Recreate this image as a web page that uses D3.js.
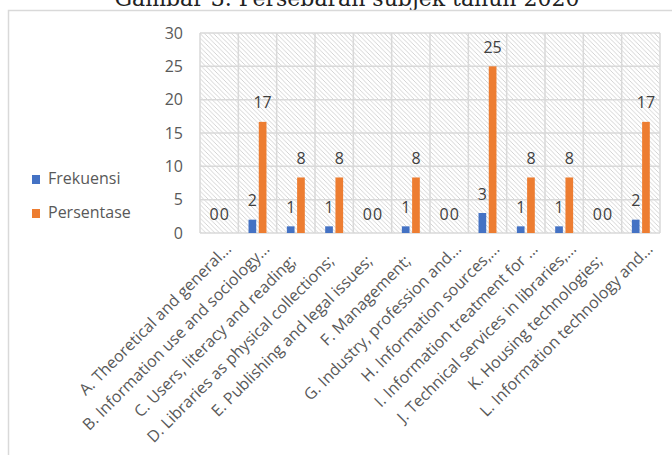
<!DOCTYPE html>
<html><head>
<meta charset="utf-8">
<script src="https://d3js.org/d3.v7.min.js"></script>
<style>
  body { margin: 0; background: #fff; }
  svg { display: block; }
</style>
</head>
<body>
<div id="chart"></div>
<script>

// data
const categories = [
  'A. Theoretical and general...',
  'B. Information use and sociology...',
  'C. Users, literacy and reading;',
  'D. Libraries as physical collections;',
  'E. Publishing and legal issues;',
  'F. Management;',
  'G. Industry, profession and...',
  'H. Information sources,...',
  'I. Information treatment for ...',
  'J. Technical services in libraries,...',
  'K. Housing technologies;',
  'L. Information technology and...'
];
const frekuensi = [0, 2, 1, 1, 0, 1, 0, 3, 1, 1, 0, 2];
const persentase = [0, 16.67, 8.33, 8.33, 0, 8.33, 0, 25, 8.33, 8.33, 0, 16.67];
const seriesNames = ['Frekuensi', 'Persentase'];
const yTicks = [0, 5, 10, 15, 20, 25, 30];
const titleText = 'Gambar 3. Persebaran subjek tahun 2020';

// constants
const W = 672, H = 455;
const plot = {left: 200, right: 660, top: 33, bottom: 233};
const colors = ['#4472C4', '#ED7D31'];
const textColor = '#595959';
const sans = '"Open Sans", sans-serif';

const svg = d3.select('#chart').append('svg')
  .attr('width', W).attr('height', H);

// hatch pattern for plot background ("\" diagonals)
const hs = 4.5;
const defs = svg.append('defs');
const pat = defs.append('pattern')
  .attr('id', 'hatch')
  .attr('patternUnits', 'userSpaceOnUse')
  .attr('width', hs).attr('height', hs);
pat.append('rect').attr('width', hs).attr('height', hs).style('fill', '#fff');
pat.append('path')
  .attr('d', `M0,0 L${hs},${hs} M${-hs / 2},${hs / 2} L${hs / 2},${hs * 1.5} M${hs / 2},${-hs / 2} L${hs * 1.5},${hs / 2}`)
  .style('stroke', '#cfcfcf').style('stroke-width', 0.9);

// title (cut at the top in the source image)
svg.append('text')
  .attr('x', 347).attr('y', 6)
  .attr('text-anchor', 'middle')
  .style('font-family', '"DejaVu Serif", serif')
  .style('font-size', '22px')
  .style('fill', '#222')
  .text(titleText);

// outer chart border
svg.append('path')
  .attr('d', `M8.5,${H + 2} V10.5 H${W + 2}`)
  .style('fill', 'none').style('stroke', '#d9d9d9').style('stroke-width', 1.5);

// scales
const x0 = d3.scaleBand().domain(d3.range(categories.length))
  .range([plot.left, plot.right]);
const y = d3.scaleLinear().domain([0, 30]).range([plot.bottom, plot.top]);
const x1 = d3.scaleBand().domain([0, 1]).range([-10, 10]).paddingInner(0.25).paddingOuter(0.1);

// background
svg.append('rect')
  .attr('x', plot.left).attr('y', plot.top)
  .attr('width', plot.right - plot.left).attr('height', plot.bottom - plot.top)
  .style('fill', 'url(#hatch)');

// horizontal gridlines
svg.append('g').selectAll('line').data(yTicks).join('line')
  .attr('x1', plot.left).attr('x2', plot.right)
  .attr('y1', d => y(d)).attr('y2', d => y(d))
  .style('stroke', '#d9d9d9').style('stroke-width', 1.5);

// vertical gridlines at category boundaries
const bounds = d3.range(categories.length + 1).map(i => plot.left + i * x0.step());
svg.append('g').selectAll('line').data(bounds).join('line')
  .attr('x1', d => d).attr('x2', d => d)
  .attr('y1', plot.top).attr('y2', plot.bottom)
  .style('stroke', '#d9d9d9').style('stroke-width', 1.5);

// y axis labels
svg.append('g').selectAll('text').data(yTicks).join('text')
  .attr('x', 183).attr('y', d => y(d)).attr('dy', '0.36em')
  .attr('text-anchor', 'end')
  .style('font-family', sans).style('font-size', '16px').style('fill', textColor)
  .text(d => d);

// bars + labels
const series = [frekuensi, persentase];
const fmt = d3.format('.0f');
series.forEach((vals, s) => {
  const g = svg.append('g');
  g.selectAll('rect').data(vals).join('rect')
    .attr('x', (d, i) => x0(i) + x0.bandwidth() / 2 + x1(s))
    .attr('width', x1.bandwidth())
    .attr('y', d => y(d))
    .attr('height', d => y(0) - y(d))
    .style('fill', colors[s]);
  g.selectAll('text').data(vals).join('text')
    .attr('x', (d, i) => x0(i) + x0.bandwidth() / 2 + x1(s) + x1.bandwidth() / 2)
    .attr('y', d => y(d) - 13.5)
    .attr('text-anchor', 'middle')
    .style('font-family', sans).style('font-size', '16px').style('fill', '#404040')
    .text(d => fmt(d));
});

// x axis labels, rotated
svg.append('g').selectAll('text').data(categories).join('text')
  .attr('transform', (d, i) => `translate(${x0(i) + x0.bandwidth() / 2 + 13}, 250) rotate(-45)`)
  .attr('dx', d => d.endsWith(';') ? -17 : 0)
  .attr('text-anchor', 'end')
  .style('font-family', sans).style('font-size', '16px').style('fill', textColor)
  .text(d => d);

// legend
const legend = svg.append('g');
seriesNames.forEach((name, s) => {
  const ly = 184 + s * 34;
  legend.append('rect')
    .attr('x', 32).attr('y', ly - 9).attr('width', 8).attr('height', 9)
    .style('fill', colors[s]);
  legend.append('text')
    .attr('x', 48).attr('y', ly)
    .style('font-family', sans).style('font-size', '16px').style('fill', textColor)
    .text(name);
});

</script>
</body></html>
